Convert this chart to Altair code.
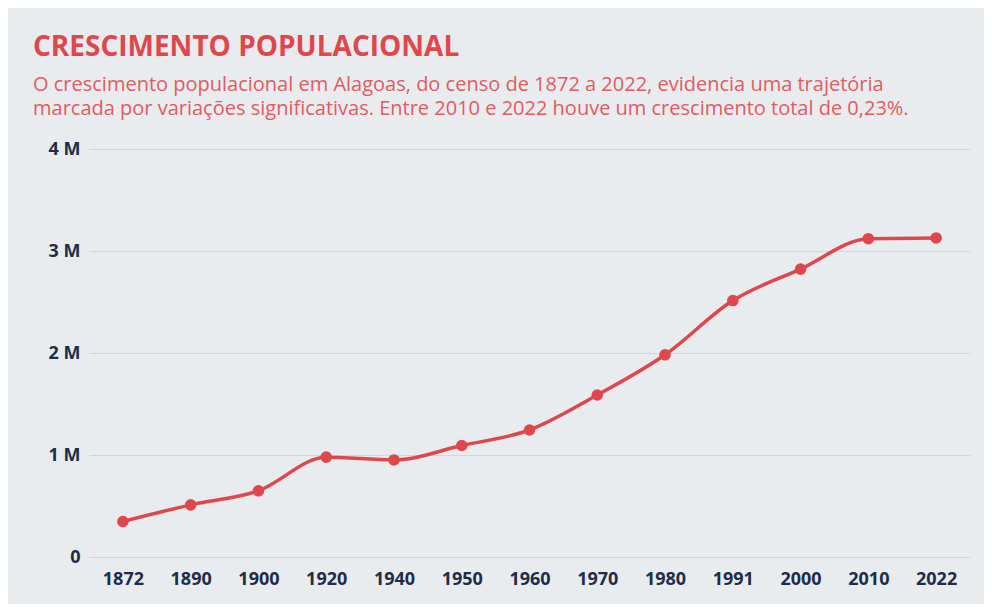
import altair as alt
import pandas as pd

years = ["1872", "1890", "1900", "1920", "1940", "1950", "1960", "1970", "1980", "1991", "2000", "2010", "2022"]
population = [348009, 511440, 649273, 978748, 951300, 1093137, 1245000, 1588109, 1982591, 2514100, 2822621, 3120494, 3127683]

df = pd.DataFrame({"ano": years, "pop": population})

RED = "#e0474c"
NAVY = "#1f2d47"
BG = "#e9ecef"
FONT = "Open Sans"

x = alt.X("ano:O", sort=years, title=None,
          axis=alt.Axis(labelAngle=0, ticks=False, domain=False, labelPadding=13,
                        labelFontSize=18, labelFontWeight="bold", labelColor=NAVY, labelFont=FONT))
y = alt.Y("pop:Q", title=None,
          scale=alt.Scale(domain=[0, 4000000]),
          axis=alt.Axis(values=[0, 1000000, 2000000, 3000000, 4000000],
                        labelExpr="datum.value == 0 ? '0' : (datum.value / 1000000) + ' M'",
                        ticks=False, domain=False, labelPadding=9,
                        labelFontSize=18, labelFontWeight="bold", labelColor=NAVY, labelFont=FONT,
                        gridColor="#d3d7dc", gridWidth=1))

base = alt.Chart(df).encode(x=x, y=y)
line = base.mark_line(color=RED, strokeWidth=3.5, interpolate="monotone")
pts = base.mark_circle(color=RED, size=135, opacity=1)

chart = (line + pts).properties(
    width=881, height=408,
    padding={"left": 81, "top": 141, "right": 14, "bottom": 47},
    autosize=alt.AutoSizeParams(type="none"),
    background=BG,
    title=alt.TitleParams(
        text="CRESCIMENTO POPULACIONAL",
        subtitle=["O crescimento populacional em Alagoas, do censo de 1872 a 2022, evidencia uma trajetória",
                  "marcada por variações significativas. Entre 2010 e 2022 houve um crescimento total de 0,23%."],
        anchor="start", frame="group", dx=-56, offset=21,
        font=FONT, fontSize=28, fontWeight="bold", color=RED,
        subtitleFont=FONT, subtitleFontSize=20, subtitleColor="#e35a5f",
        subtitleFontWeight="normal", subtitlePadding=13, subtitleLineHeight=24.5,
    ),
).configure_view(stroke=None)

chart.save("out.html", embed_options={"renderer": "svg", "actions": False})
